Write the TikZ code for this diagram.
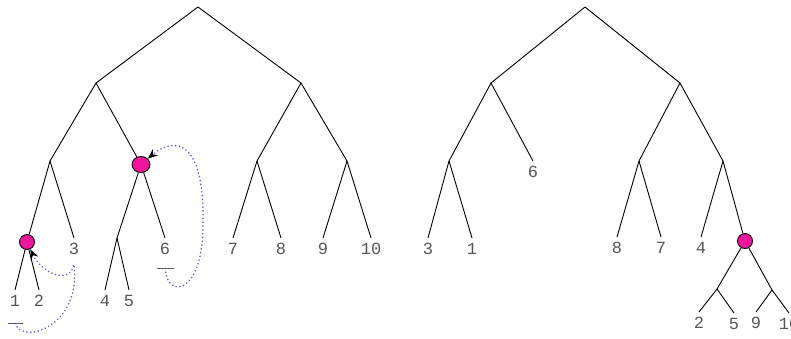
\documentclass[tikz,border=0pt]{standalone}
\usepackage{fontspec}
\setmonofont{Liberation Mono}
\usetikzlibrary{arrows.meta, positioning, shapes.geometric}
\definecolor{cpink}{HTML}{F0149E}
\definecolor{cdots}{HTML}{7050D0}
\definecolor{clabel}{HTML}{555555}
\tikzset{
  every picture/.style={line width=0.9pt},
  leaf/.style={anchor=north, inner sep=4.5pt, text=clabel, font=\ttfamily\fontsize{17}{17}\selectfont},
  hit/.style={circle, draw=black, fill=cpink, minimum size=15pt, inner sep=0pt, line width=0.9pt},
  bigHit/.style={hit, ellipse, minimum width=18pt, minimum height=16pt},
  bar/.style={draw=black, minimum width=15pt, minimum height=0pt, inner sep=0pt, line width=0.9pt},
  back/.style={draw=cdots, line width=1.8pt, line cap=round, dash pattern=on 0.01pt off 3.8pt,
    -{Stealth[length=10pt, width=8pt, inset=3.5pt, color=black]}},
}

\begin{document}
\begin{tikzpicture}[x=1pt, y=-1pt]
  \useasboundingbox (0,0) rectangle (791,338);

  % left tree
  \coordinate (a) at (198,7);
  \coordinate (a1) at (96,83);
  \coordinate (a2) at (301,83);
  \coordinate (a11) at (50,161);
  \node[bigHit] (p2) at (141,164.5) {};
  \coordinate (a21) at (257,161);
  \coordinate (a22) at (347,161);
  \node[hit] (p1) at (27,242) {};
  \coordinate (a121) at (117,238);
  \node[leaf] (l3) at (74,238) {3};
  \node[leaf] (l6) at (165,238) {6};
  \node[leaf] (l7) at (233,238) {7};
  \node[leaf] (l8) at (281,238) {8};
  \node[leaf] (l9) at (323,238) {9};
  \node[leaf] (l10) at (371,238) {10};
  \node[leaf] (l1) at (15,290) {1};
  \node[leaf] (l2) at (39,290) {2};
  \node[leaf] (l4) at (105,290) {4};
  \node[leaf] (l5) at (129,290) {5};
  \foreach \u/\v in {a/a1, a/a2, a1/a11, a1/p2, a2/a21, a2/a22, a11/p1, p2/a121}
    \draw (\u) -- (\v);
  \foreach \u/\v in {a11/l3, p2/l6, a21/l7, a21/l8, a22/l9, a22/l10, p1/l1, p1/l2, a121/l4, a121/l5}
    \draw (\u) -- (\v.north);

  % marks and back links
  \node[bar] (bar1) at (15.5,323) {};
  \node[bar, minimum width=17pt] (bar6) at (165.5,268) {};
  \coordinate[below=5pt of l3] (c3);
  \coordinate (r6) at (203,225);
  \draw[back] (bar1.south) .. controls +(6,22) and +(8,62) .. (c3)
    .. controls +(-5,22) and +(14,30) .. (p1);
  \draw[back] (bar6.south) .. controls +(0,30) and +(0,72) .. (r6)
    .. controls +(2,-85) and +(34,-29) .. (p2);

  % right tree
  \coordinate (r) at (585,7);
  \coordinate (r1) at (491,83);
  \coordinate (r2) at (680,83);
  \coordinate (r11) at (449,161);
  \coordinate (r21) at (639,161);
  \coordinate (r22) at (723,161);
  \node[hit] (q) at (745,241) {};
  \coordinate (q1) at (717,289);
  \coordinate (q2) at (772,290);
  \node[leaf] (m6) at (533,161) {6};
  \node[leaf] (m3) at (428,238) {3};
  \node[leaf] (m1) at (472,238) {1};
  \node[leaf] (m8) at (617,237) {8};
  \node[leaf] (m7) at (661,237) {7};
  \node[leaf] (m4) at (701,237) {4};
  \node[leaf] (m2) at (699,312) {2};
  \node[leaf] (m5) at (734,313) {5};
  \node[leaf] (m9) at (756,312) {9};
  \node[leaf] (m10) at (789,313) {10};
  \foreach \u/\v in {r/r1, r/r2, r1/r11, r2/r21, r2/r22, r22/q, q/q1, q/q2}
    \draw (\u) -- (\v);
  \foreach \u/\v in {r1/m6, r11/m3, r11/m1, r21/m8, r21/m7, r22/m4, q1/m2, q1/m5, q2/m9, q2/m10}
    \draw (\u) -- (\v.north);
\end{tikzpicture}
\end{document}
